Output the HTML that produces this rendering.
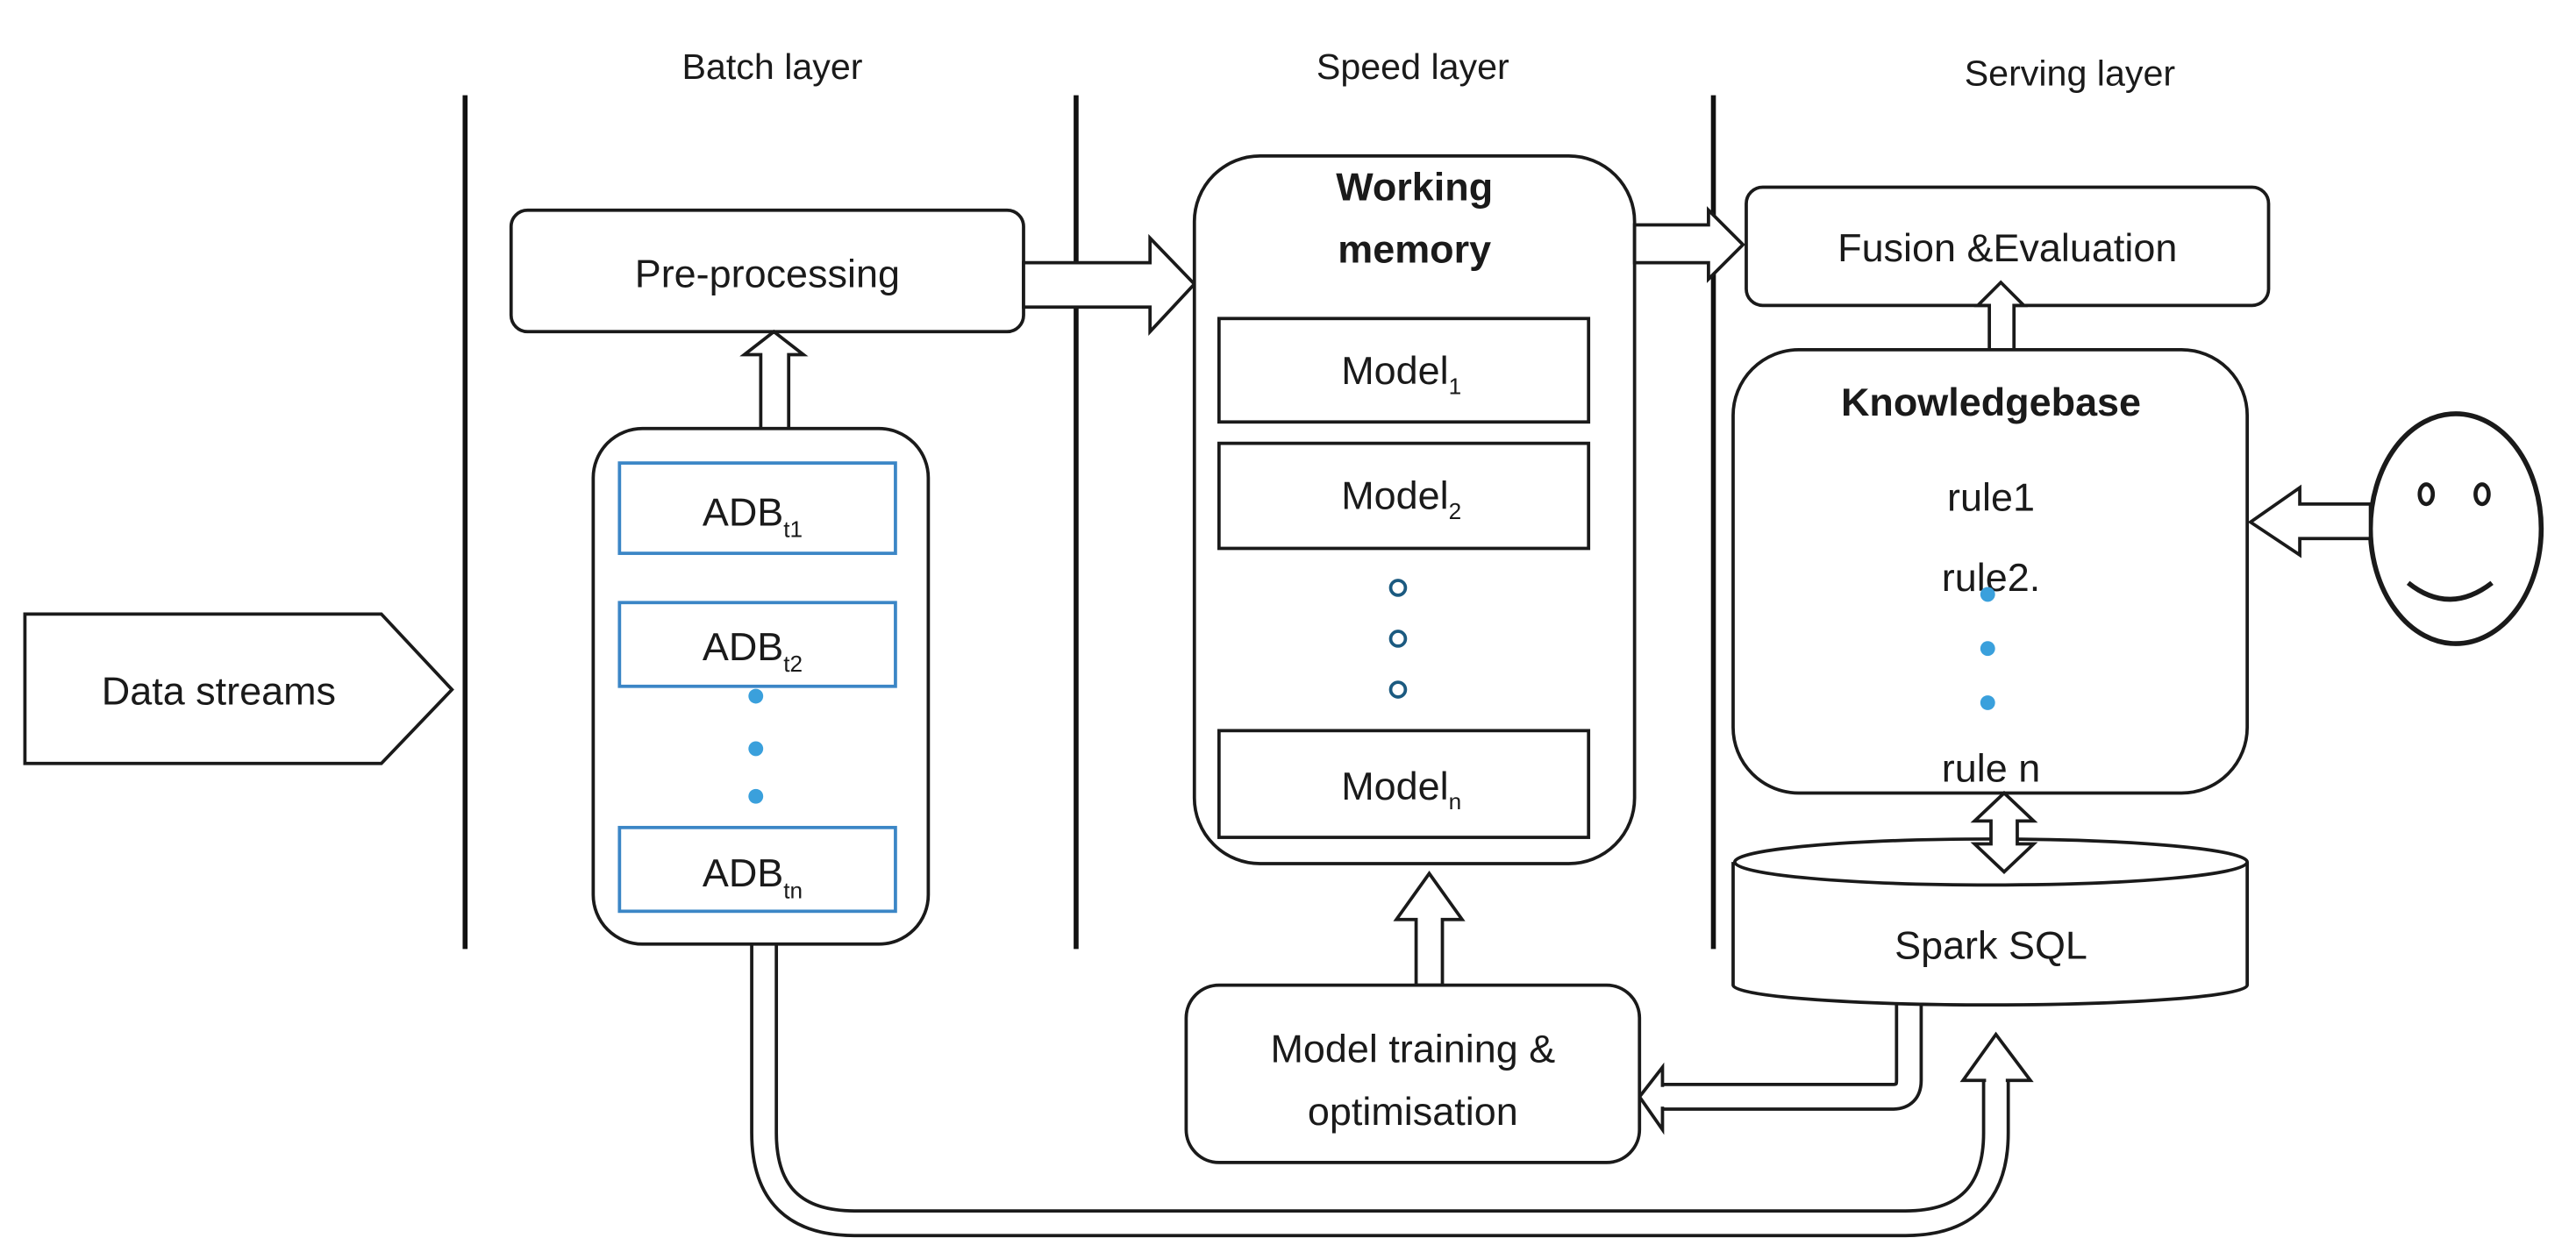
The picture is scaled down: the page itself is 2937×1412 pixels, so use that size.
<!DOCTYPE html>
<html><head><meta charset="utf-8"><style>
html,body{margin:0;padding:0;background:#fff;}
svg{display:block;}
text{font-family:"Liberation Sans",Arial,sans-serif;fill:#1a1a1a;}
</style></head><body>
<svg width="2937" height="1412" viewBox="0 0 1568 754" xmlns="http://www.w3.org/2000/svg">
<g fill="none" stroke="#1a1a1a" stroke-width="2">
<!-- lane titles -->
</g>
<text x="470" y="48" font-size="22" text-anchor="middle">Batch layer</text>
<text x="860" y="48" font-size="22" text-anchor="middle">Speed layer</text>
<text x="1260" y="52" font-size="22" text-anchor="middle">Serving layer</text>
<!-- vertical lines -->
<g stroke="#111" stroke-width="3">
<line x1="283" y1="58" x2="283" y2="578"/>
<line x1="655" y1="58" x2="655" y2="578"/>
<line x1="1043" y1="58" x2="1043" y2="578"/>
</g>
<!-- Data streams -->
<polygon points="15,374 232,374 275,420 232,465 15,465" fill="#fff" stroke="#1a1a1a" stroke-width="2"/>
<text x="133" y="429" font-size="24" text-anchor="middle">Data streams</text>

<!-- U-shaped bottom arrow -->
<path d="M465,575 L465,690 Q465,745 520,745 L1160,745 Q1215,745 1215,690 L1215,658" fill="none" stroke="#1a1a1a" stroke-width="17"/>
<path d="M465,573 L465,690 Q465,745 520,745 L1160,745 Q1215,745 1215,690 L1215,656" fill="none" stroke="#fff" stroke-width="13"/>
<polygon points="1195,658 1215,630 1236,658" fill="#fff" stroke="#1a1a1a" stroke-width="2"/>
<line x1="1209" y1="658" x2="1221" y2="658" stroke="#fff" stroke-width="3"/>

<!-- Spark -> model training -->
<path d="M1162,612 L1162,658 Q1162,668 1152,668 L1010,668" fill="none" stroke="#1a1a1a" stroke-width="17"/>
<path d="M1162,610 L1162,658 Q1162,668 1152,668 L1008,668" fill="none" stroke="#fff" stroke-width="13"/>
<polygon points="1012,650 998,668 1012,688" fill="#fff" stroke="#1a1a1a" stroke-width="2"/>
<line x1="1012" y1="662" x2="1012" y2="674" stroke="#fff" stroke-width="3"/>

<!-- Pre-processing -->
<rect x="311" y="128" width="312" height="74" rx="10" fill="#fff" stroke="#1a1a1a" stroke-width="2"/>
<text x="467" y="175" font-size="24" text-anchor="middle">Pre-processing</text>
<!-- ADB up arrow -->
<polygon points="463,262 463,216 453,216 471,202 489,216 480,216 480,262" fill="#fff" stroke="#1a1a1a" stroke-width="2"/>
<!-- preproc -> working memory -->
<polygon points="623,160 700,160 700,145 727,173 700,202 700,187 623,187" fill="#fff" stroke="#1a1a1a" stroke-width="2"/>

<!-- ADB container -->
<rect x="361" y="261" width="204" height="314" rx="30" fill="#fff" stroke="#1a1a1a" stroke-width="2"/>
<g fill="#fff" stroke="#3b86c6" stroke-width="2">
<rect x="377" y="282" width="168" height="55"/>
<rect x="377" y="367" width="168" height="51"/>
<rect x="377" y="504" width="168" height="51"/>
</g>
<text x="458" y="320" font-size="24" text-anchor="middle">ADB<tspan font-size="14" dy="7">t1</tspan></text>
<text x="458" y="402" font-size="24" text-anchor="middle">ADB<tspan font-size="14" dy="7">t2</tspan></text>
<text x="458" y="540" font-size="24" text-anchor="middle">ADB<tspan font-size="14" dy="7">tn</tspan></text>
<g fill="#3aa0dc"><circle cx="460" cy="424" r="4.5"/><circle cx="460" cy="456" r="4.5"/><circle cx="460" cy="485" r="4.5"/></g>

<!-- Working memory -->
<rect x="727" y="95" width="268" height="431" rx="40" fill="#fff" stroke="#1a1a1a" stroke-width="2"/>
<text x="861" y="122" font-size="24" font-weight="bold" text-anchor="middle">Working</text>
<text x="861" y="160" font-size="24" font-weight="bold" text-anchor="middle">memory</text>
<g fill="#fff" stroke="#1a1a1a" stroke-width="2">
<rect x="742" y="194" width="225" height="63"/>
<rect x="742" y="270" width="225" height="64"/>
<rect x="742" y="445" width="225" height="65"/>
</g>
<text x="853" y="234" font-size="24" text-anchor="middle">Model<tspan font-size="14" dy="6">1</tspan></text>
<text x="853" y="310" font-size="24" text-anchor="middle">Model<tspan font-size="14" dy="6">2</tspan></text>
<text x="853" y="487" font-size="24" text-anchor="middle">Model<tspan font-size="14" dy="6">n</tspan></text>
<g fill="#fff" stroke="#1b5a80" stroke-width="2"><circle cx="851" cy="358" r="4.5"/><circle cx="851" cy="389" r="4.5"/><circle cx="851" cy="420" r="4.5"/></g>

<!-- WM -> Fusion -->
<polygon points="995,137 1040,137 1040,128 1061,149 1040,170 1040,160 995,160" fill="#fff" stroke="#1a1a1a" stroke-width="2"/>
<!-- Fusion -->
<rect x="1063" y="114" width="318" height="72" rx="10" fill="#fff" stroke="#1a1a1a" stroke-width="2"/>
<text x="1222" y="159" font-size="24" text-anchor="middle">Fusion &amp;Evaluation</text>
<!-- KB -> Fusion -->
<polygon points="1211,213 1211,186 1204,186 1218,172 1232,186 1226,186 1226,213" fill="#fff" stroke="#1a1a1a" stroke-width="2"/>

<!-- Model training -> WM -->
<polygon points="862,600 862,560 850,560 870,532 890,560 878,560 878,600" fill="#fff" stroke="#1a1a1a" stroke-width="2"/>
<!-- Model training -->
<rect x="722" y="600" width="276" height="108" rx="20" fill="#fff" stroke="#1a1a1a" stroke-width="2"/>
<text x="860" y="647" font-size="24" text-anchor="middle">Model training &amp;</text>
<text x="860" y="685" font-size="24" text-anchor="middle">optimisation</text>

<!-- Spark cylinder -->
<path d="M1055,525 L1055,600 A156,12 0 0 0 1368,600 L1368,525" fill="#fff" stroke="#1a1a1a" stroke-width="2"/>
<ellipse cx="1212" cy="525" rx="156" ry="14" fill="#fff" stroke="#1a1a1a" stroke-width="2"/>
<text x="1212" y="584" font-size="24" text-anchor="middle">Spark SQL</text>

<!-- Knowledgebase -->
<rect x="1055" y="213" width="313" height="270" rx="40" fill="#fff" stroke="#1a1a1a" stroke-width="2"/>
<text x="1212" y="253" font-size="24" font-weight="bold" text-anchor="middle">Knowledgebase</text>
<text x="1212" y="311" font-size="24" text-anchor="middle">rule1</text>
<text x="1212" y="360" font-size="24" text-anchor="middle">rule2.</text>
<text x="1212" y="476" font-size="24" text-anchor="middle">rule n</text>
<g fill="#3aa0dc"><circle cx="1210" cy="362" r="4.5"/><circle cx="1210" cy="395" r="4.5"/><circle cx="1210" cy="428" r="4.5"/></g>
<!-- double arrow KB <-> Spark -->
<polygon points="1220,483 1238,500 1228,500 1228,514 1238,514 1220,531 1202,514 1212,514 1212,500 1202,500" fill="#fff" stroke="#1a1a1a" stroke-width="2"/>

<!-- smiley -->
<ellipse cx="1495" cy="322" rx="52" ry="70" fill="#fff" stroke="#1a1a1a" stroke-width="3"/>
<ellipse cx="1477" cy="301" rx="4" ry="6" fill="none" stroke="#1a1a1a" stroke-width="2.5"/>
<ellipse cx="1511" cy="301" rx="4" ry="6" fill="none" stroke="#1a1a1a" stroke-width="2.5"/>
<path d="M1466,355 Q1491,375 1517,355" fill="none" stroke="#1a1a1a" stroke-width="3"/>
<!-- smiley -> KB -->
<polygon points="1443,307 1400,307 1400,297 1370,318 1400,338 1400,328 1443,328" fill="#fff" stroke="#1a1a1a" stroke-width="2"/>
</svg>
</body></html>
